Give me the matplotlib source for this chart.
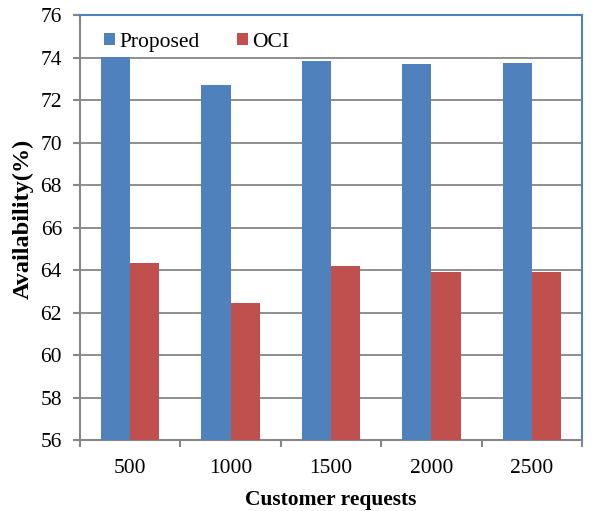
import matplotlib
matplotlib.use("Agg")
import matplotlib.pyplot as plt
import numpy as np

categories = ["500", "1000", "1500", "2000", "2500"]
proposed = [74.02, 72.72, 73.85, 73.70, 73.75]
oci = [64.31, 62.45, 64.20, 63.89, 63.92]

plt.rcParams['font.family'] = ['Liberation Serif', 'DejaVu Serif']

blue = "#4F81BD"
red = "#C0504D"
gray = "#868686"

fig = plt.figure(figsize=(5.93, 5.11), dpi=100)
ax = fig.add_axes([80 / 593, 1 - 440 / 511, 502 / 593, 425 / 511])

x = np.arange(len(categories))
w = 0.29
ax.bar(x - w / 2, proposed, w, color=blue, label="Proposed", zorder=3)
ax.bar(x + w / 2, oci, w, color=red, label="OCI", zorder=3)

ax.set_ylim(56, 76)
ax.set_yticks(np.arange(56, 77, 2))
ax.set_xlim(-0.5, len(categories) - 0.5)
ax.set_xticks(x)
ax.set_xticklabels(categories)
ax.set_xticks(np.arange(-0.5, len(categories)), minor=True)
ax.tick_params(axis='x', which='major', length=0, pad=14, labelsize=15.5)
ax.tick_params(axis='x', which='minor', length=5, width=1.5, color=gray, direction='out')
ax.tick_params(axis='y', length=5, width=1.5, color=gray, direction='out', labelsize=15.5, pad=8)

ax.yaxis.grid(True, color=gray, linewidth=1.3, zorder=0)
ax.set_axisbelow(True)

for side in ("left", "bottom"):
    ax.spines[side].set_color(gray)
    ax.spines[side].set_linewidth(1.5)
for side in ("top", "right"):
    ax.spines[side].set_color(blue)
    ax.spines[side].set_linewidth(1.5)

ax.set_xlabel("Customer requests", fontsize=15.5, fontweight='bold', labelpad=8)
ax.set_ylabel("Availability(%)", fontsize=17.5, fontweight='bold', labelpad=5)
ax.yaxis.set_label_coords(-0.093, 0.52)

leg = ax.legend(loc='center left', bbox_to_anchor=(0.039, 0.936), ncol=2, frameon=True,
                fontsize=15.5, handlelength=0.51, handleheight=0.51, handletextpad=0.2,
                columnspacing=1.75, borderaxespad=0.0, borderpad=0.2)
leg.get_frame().set_facecolor('white')
leg.get_frame().set_edgecolor('none')
leg.get_frame().set_alpha(1)

fig.savefig("out.png", dpi=100)
